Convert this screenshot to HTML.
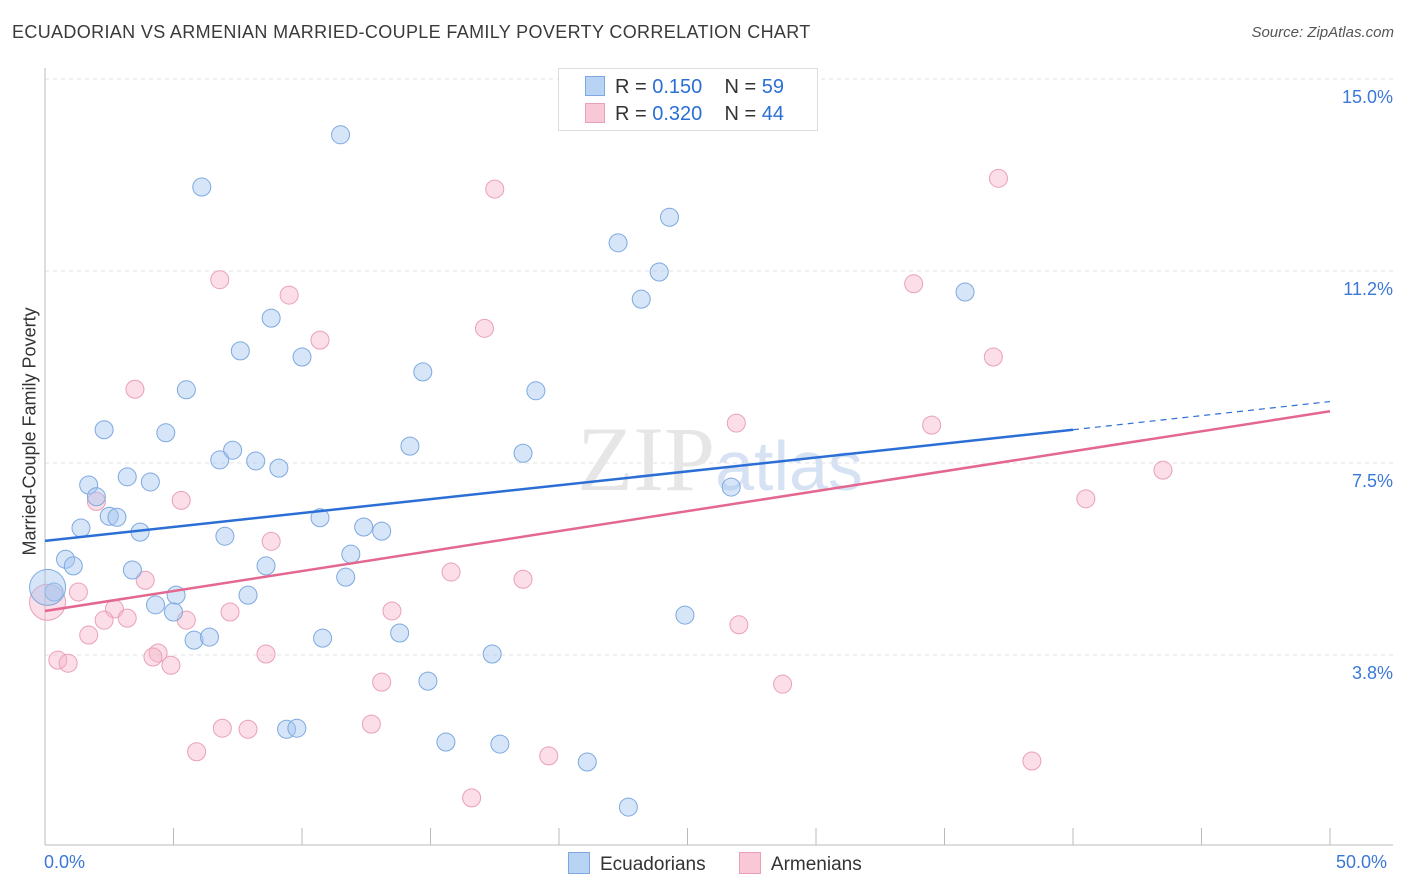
<!DOCTYPE html>
<html><head><meta charset="utf-8">
<style>
body{margin:0;background:#fff;font-family:"Liberation Sans",sans-serif;}
#wrap{position:relative;width:1406px;height:892px;overflow:hidden;}
.t{position:absolute;white-space:nowrap;}
</style></head>
<body>
<div id="wrap">
<div class="t" style="left:12px;top:22px;font-size:18px;letter-spacing:0.35px;color:#3a3a3a;">ECUADORIAN VS ARMENIAN MARRIED-COUPLE FAMILY POVERTY CORRELATION CHART</div>
<div class="t" style="right:12px;top:24px;font-size:15px;color:#555;font-style:italic;">Source: ZipAtlas.com</div>
<svg id="svg" width="1406" height="892" style="position:absolute;left:0;top:0"></svg>
</div>
<script>
const yTicks=[15.0,11.25,7.5,3.75];
const yTickLabels=["15.0%","11.2%","7.5%","3.8%"];
const blueX=[11.5,6.1,24.3,22.3,23.9,23.2,35.8,8.8,7.6,10.0,14.7,5.5,19.1,2.3,4.7,14.2,7.3,6.8,8.2,9.1,18.6,3.2,4.1,1.7,2.0,26.7,2.5,2.8,1.4,3.7,10.7,12.4,13.1,7.0,11.9,0.8,1.1,3.4,8.6,11.7,0.35,5.1,7.9,4.3,5.0,24.9,5.8,6.4,10.8,13.8,17.4,14.9,9.4,9.8,15.6,17.7,21.1,22.7,0.1];
const blueY=[13.91,12.89,12.30,11.80,11.23,10.70,10.84,10.33,9.69,9.57,9.28,8.93,8.91,8.15,8.09,7.83,7.75,7.56,7.54,7.40,7.69,7.23,7.13,7.07,6.84,7.03,6.46,6.44,6.23,6.15,6.43,6.25,6.17,6.07,5.72,5.62,5.49,5.41,5.49,5.27,4.98,4.92,4.92,4.73,4.59,4.53,4.04,4.10,4.08,4.18,3.77,3.24,2.30,2.32,2.05,2.01,1.66,0.78,5.07];
const pinkX=[17.5,37.1,6.8,9.5,33.8,17.1,10.7,36.9,3.5,26.9,34.5,43.5,40.5,5.3,2.0,8.8,15.8,18.6,3.9,1.3,2.7,3.2,2.3,5.5,13.5,7.2,27.0,1.7,4.4,4.2,8.6,0.5,0.9,4.9,13.1,28.7,6.9,7.9,12.7,5.9,19.6,38.4,16.6,0.1];
const pinkY=[12.85,13.06,11.08,10.78,11.00,10.13,9.90,9.57,8.94,8.28,8.24,7.36,6.80,6.77,6.75,5.97,5.37,5.23,5.21,4.98,4.65,4.47,4.43,4.43,4.61,4.59,4.34,4.14,3.79,3.71,3.77,3.65,3.59,3.55,3.22,3.18,2.32,2.30,2.40,1.86,1.78,1.68,0.96,4.78];
const blueTrend=[[0,5.98],[40,8.15],[50,8.70]];
const pinkTrend=[[0,4.61],[50,8.51]];
const X=v=>45+v*25.7, Y=v=>79+(15-v)*51.2;
const svg=document.getElementById('svg');const NS='http://www.w3.org/2000/svg';
function mk(tag,a,p){const e=document.createElementNS(NS,tag);for(const k in a)e.setAttribute(k,a[k]);(p||svg).appendChild(e);return e;}
yTicks.forEach((v,i)=>{
 const g=mk('line',{x1:45,x2:1393,y1:Y(v),y2:Y(v),stroke:'#e2e2e2','stroke-dasharray':'4,4'});
 
 
 const t=mk('text',{x:1393,y:Y(v)+24,'text-anchor':'end','font-size':18,fill:'#3b78d8','font-family':'Liberation Sans'});
 t.textContent=yTickLabels[i];
 
 
});
const ax=mk('line',{x1:45,x2:45,y1:68,y2:845,stroke:'#bbb'});


const bx=mk('line',{x1:45,x2:1393,y1:845,y2:845,stroke:'#bbb'});


for(let i=0;i<=10;i++){const tk=mk('line',{x1:X(i*5),x2:X(i*5),y1:828,y2:845,stroke:'#bbb'});
 
 }
const wm=mk('text',{x:720,y:490,'text-anchor':'middle','font-size':92,fill:'#e6e6e6','font-family':'Liberation Serif'});
wm.innerHTML='ZIP<tspan fill="#d6e2f3" font-family="Liberation Sans" font-size="70">atlas</tspan>';


function dots(xs,ys,fill,stroke,name){xs.forEach((x,i)=>{const big=i===xs.length-1;
 const c=mk('circle',{cx:X(x),cy:Y(ys[i]),r:big?18:9,fill:fill,stroke:stroke,'stroke-width':1});
 
 });}
dots(pinkX,pinkY,'rgba(246,182,202,0.45)','#eaa0b8','armenian-point');
dots(blueX,blueY,'rgba(165,198,240,0.45)','#7ea9e0','ecuadorian-point');
const bl=mk('line',{x1:X(blueTrend[0][0]),y1:Y(blueTrend[0][1]),x2:X(blueTrend[1][0]),y2:Y(blueTrend[1][1]),stroke:'#2b6fd6','stroke-width':2.5});


const bd=mk('line',{x1:X(blueTrend[1][0]),y1:Y(blueTrend[1][1]),x2:X(blueTrend[2][0]),y2:Y(blueTrend[2][1]),stroke:'#2b6fd6','stroke-width':1.2,'stroke-dasharray':'6,5'});


const pl=mk('line',{x1:X(pinkTrend[0][0]),y1:Y(pinkTrend[0][1]),x2:X(pinkTrend[1][0]),y2:Y(pinkTrend[1][1]),stroke:'#e4678f','stroke-width':2.5});


</script>
<div class="t" style="left:-70px;top:445px;font-size:18px;color:#333;transform:rotate(-90deg);width:200px;text-align:center;">Married-Couple Family Poverty</div>
<div class="t" style="left:44px;top:852px;font-size:18px;color:#3b78d8;">0.0%</div>
<div class="t" style="left:1336px;top:852px;font-size:18px;color:#3b78d8;">50.0%</div>
<div style="position:absolute;left:558px;top:68px;width:258px;height:61px;border:1px solid #ddd;background:#fff;font-size:20px;">
 <div style="position:absolute;left:28px;top:7px;white-space:nowrap;"><span style="display:inline-block;width:18px;height:18px;background:#b9d3f5;border:1px solid #7ea9e0;vertical-align:-3px;margin-right:10px;margin-left:-2px"></span><span style="color:#333">R = </span><span style="color:#2b6fd6"> 0.150</span><span style="color:#333">&nbsp;&nbsp;&nbsp; N = </span><span style="color:#2b6fd6"> 59</span></div>
 <div style="position:absolute;left:28px;top:34px;white-space:nowrap;"><span style="display:inline-block;width:18px;height:18px;background:#f8c8d6;border:1px solid #eaa0b8;vertical-align:-3px;margin-right:10px;margin-left:-2px"></span><span style="color:#333">R = </span><span style="color:#2b6fd6">0.320</span><span style="color:#333">&nbsp;&nbsp;&nbsp; N = </span><span style="color:#2b6fd6">44</span></div>
</div>
<div style="position:absolute;left:568px;top:852px;font-size:19px;color:#333;white-space:nowrap;">
 <span><span style="display:inline-block;width:20px;height:20px;background:#b9d3f5;border:1px solid #7ea9e0;vertical-align:-4px;margin-right:10px"></span>Ecuadorians</span>
 <span style="margin-left:28px"><span style="display:inline-block;width:20px;height:20px;background:#f8c8d6;border:1px solid #eaa0b8;vertical-align:-4px;margin-right:10px"></span>Armenians</span>
</div>
</body></html>
